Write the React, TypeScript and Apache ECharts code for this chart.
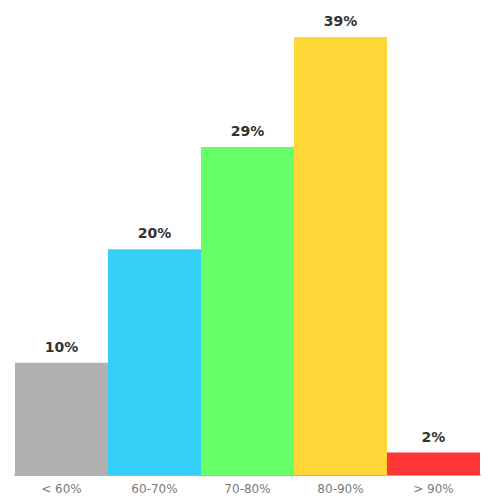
import { useEffect, useRef } from 'react';
import * as echarts from 'echarts';

const categories = ['< 60%', '60-70%', '70-80%', '80-90%', '> 90%'];
const shares = [10, 20.1, 29.2, 39, 2];
const barColors = ['#b0b0b0', '#33cff7', '#66ff66', '#ffd638', '#ff3535'];

function App() {
  const chartRef = useRef<HTMLDivElement>(null);

  useEffect(() => {
    document.body.style.margin = '0';
    const myChart = echarts.init(chartRef.current, null, { renderer: 'svg' });

    const option = {
      animation: false,
      textStyle: { fontFamily: 'DejaVu Sans' },
      grid: { left: 15, right: 20, top: 37, bottom: 25 },
      xAxis: {
        type: 'category',
        data: categories,
        axisTick: { show: false },
        axisLine: { lineStyle: { color: '#999999', width: 1.5 } },
        axisLabel: { color: '#7a7a7a', fontSize: 12, margin: 8 },
      },
      yAxis: {
        type: 'value',
        min: 0,
        max: 39,
        show: false,
        splitLine: { show: false },
      },
      series: [
        {
          type: 'bar',
          barCategoryGap: '0%',
          data: shares.map((v, i) => ({ value: v, itemStyle: { color: barColors[i] } })),
          label: {
            show: true,
            position: 'top',
            distance: 9,
            formatter: (p: any) => `${Math.round(p.value)}%`,
            color: '#333333',
            fontSize: 14,
            fontWeight: 'bold',
          },
        },
      ],
    };

    myChart.setOption(option);

    return () => {
      myChart.dispose();
    };
  }, []);

  return <div ref={chartRef} style={{ width: '500px', height: '500px' }}></div>;
}

export default App;
